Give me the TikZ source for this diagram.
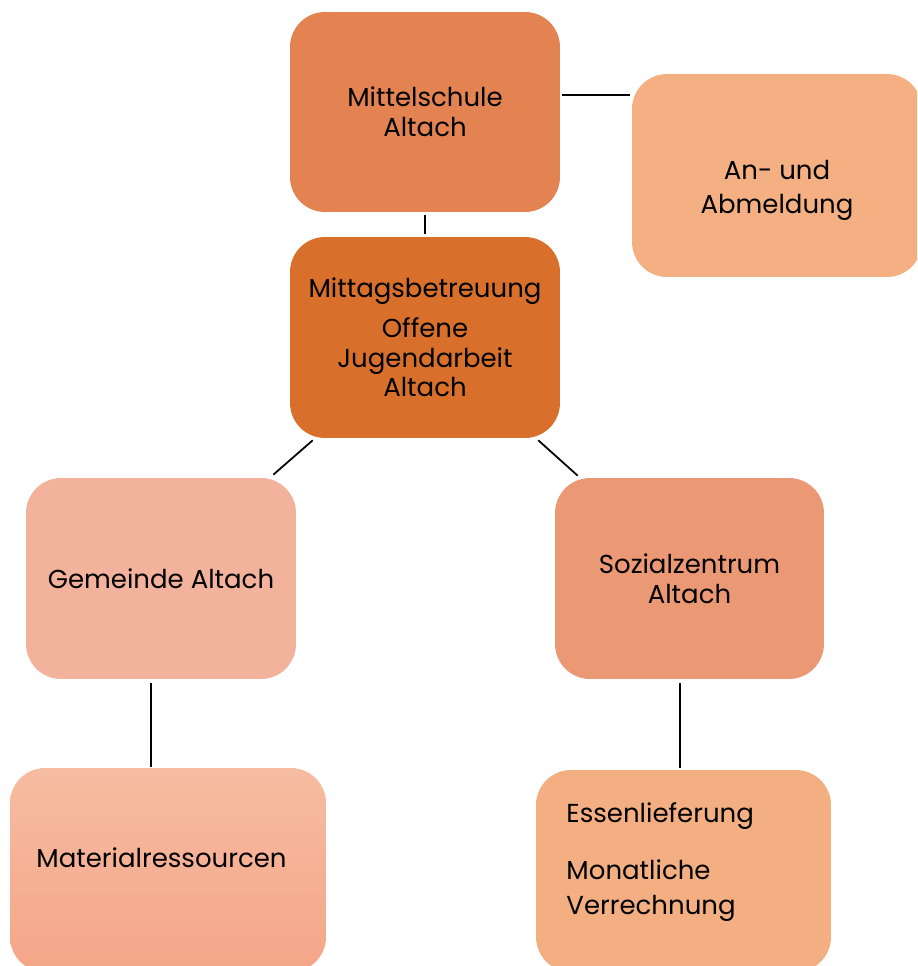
\documentclass[tikz,border=0pt]{standalone}
\usepackage{fontspec}
\setmainfont{Poppins}
\usepackage{tikz}
\usetikzlibrary{positioning,calc}

\definecolor{mittelcol}{RGB}{226,131,81}
\definecolor{mittagcol}{RGB}{216,112,44}
\definecolor{abmeldcol}{RGB}{244,176,131}
\definecolor{gemeindecol}{RGB}{243,178,156}
\definecolor{sozialcol}{RGB}{234,153,116}
\definecolor{materialtop}{RGB}{246,188,162}
\definecolor{materialbot}{RGB}{245,166,136}
\definecolor{essencol}{RGB}{243,175,130}

\begin{document}
\begin{tikzpicture}[
    x=0.02cm, y=-0.02cm,
    box/.style={rectangle, rounded corners=0.7cm, draw=none, inner sep=0pt,
        align=center, font=\fontsize{14.8}{17}\selectfont},
    boxtext/.style={align=center, font=\fontsize{14.8}{17}\selectfont},
    link/.style={line width=1pt, black}
]
    \useasboundingbox (0,0) rectangle (917,966);
    \clip (0,0) rectangle (917,966);

    % Top row
    \node[box, fill=mittelcol, minimum width=5.4cm, minimum height=4cm] (mittel) at (425,112) {Mittelschule\\Altach};
    \node[box, fill=abmeldcol, minimum width=5.8cm, minimum height=4.06cm,
        label={[boxtext, font=\fontsize{14.8}{19.5}\selectfont, yshift=-8.5pt]center:An- und\\Abmeldung}] (abmeld) at (777,175.5) {};

    % Centre
    \node[box, fill=mittagcol, minimum width=5.4cm, minimum height=4.02cm] (mittag) at (425,337.5) {Mittagsbetreuung\\[5.5pt]Offene\\Jugendarbeit\\Altach};

    % Partners
    \node[box, fill=gemeindecol, minimum width=5.4cm, minimum height=4.02cm] (gemeinde) at (161,578.5) {Gemeinde Altach};
    \node[box, fill=sozialcol, minimum width=5.38cm, minimum height=4.02cm] (sozial) at (689.5,578.5) {Sozialzentrum\\Altach};

    % Bottom row
    \node[box, top color=materialtop, bottom color=materialbot, minimum width=6.32cm, minimum height=4.08cm,
        label={[boxtext, xshift=-3.7pt, yshift=6.8pt]center:Materialressourcen}] (material) at (168,870) {};
    \node[box, fill=essencol, minimum width=5.9cm, minimum height=4.04cm,
        label={[boxtext, align=left, anchor=west, font=\fontsize{14.8}{19.8}\selectfont, xshift=14pt, yshift=5pt]west:Essenlieferung\\[12.5pt]Monatliche\\Verrechnung}] (essen) at (683.5,871) {};

    % Connectors
    \draw[link, shorten <=1.2pt, shorten >=1.2pt] ([yshift=9.6pt]mittel.east) -- ([yshift=9.6pt]mittel.east -| abmeld.west);
    \draw[link, shorten <=1.5pt, shorten >=1.5pt] (mittel.south) -- (mittag.north);
    \draw[link] ($(mittag.south west)+(23,2)$) -- ($(gemeinde.north east)+(-23,-3)$);
    \draw[link] ($(mittag.south east)+(-22,2)$) -- ($(sozial.north west)+(23,-2)$);
    \draw[link, shorten <=2pt, shorten >=0.5pt] ([xshift=-5.7pt]gemeinde.south) -- ([xshift=-5.7pt]gemeinde.south |- material.north);
    \draw[link, shorten <=2pt, shorten >=1pt] ([xshift=-5.4pt]sozial.south) -- ([xshift=-5.4pt]sozial.south |- essen.north);
\end{tikzpicture}
\end{document}
